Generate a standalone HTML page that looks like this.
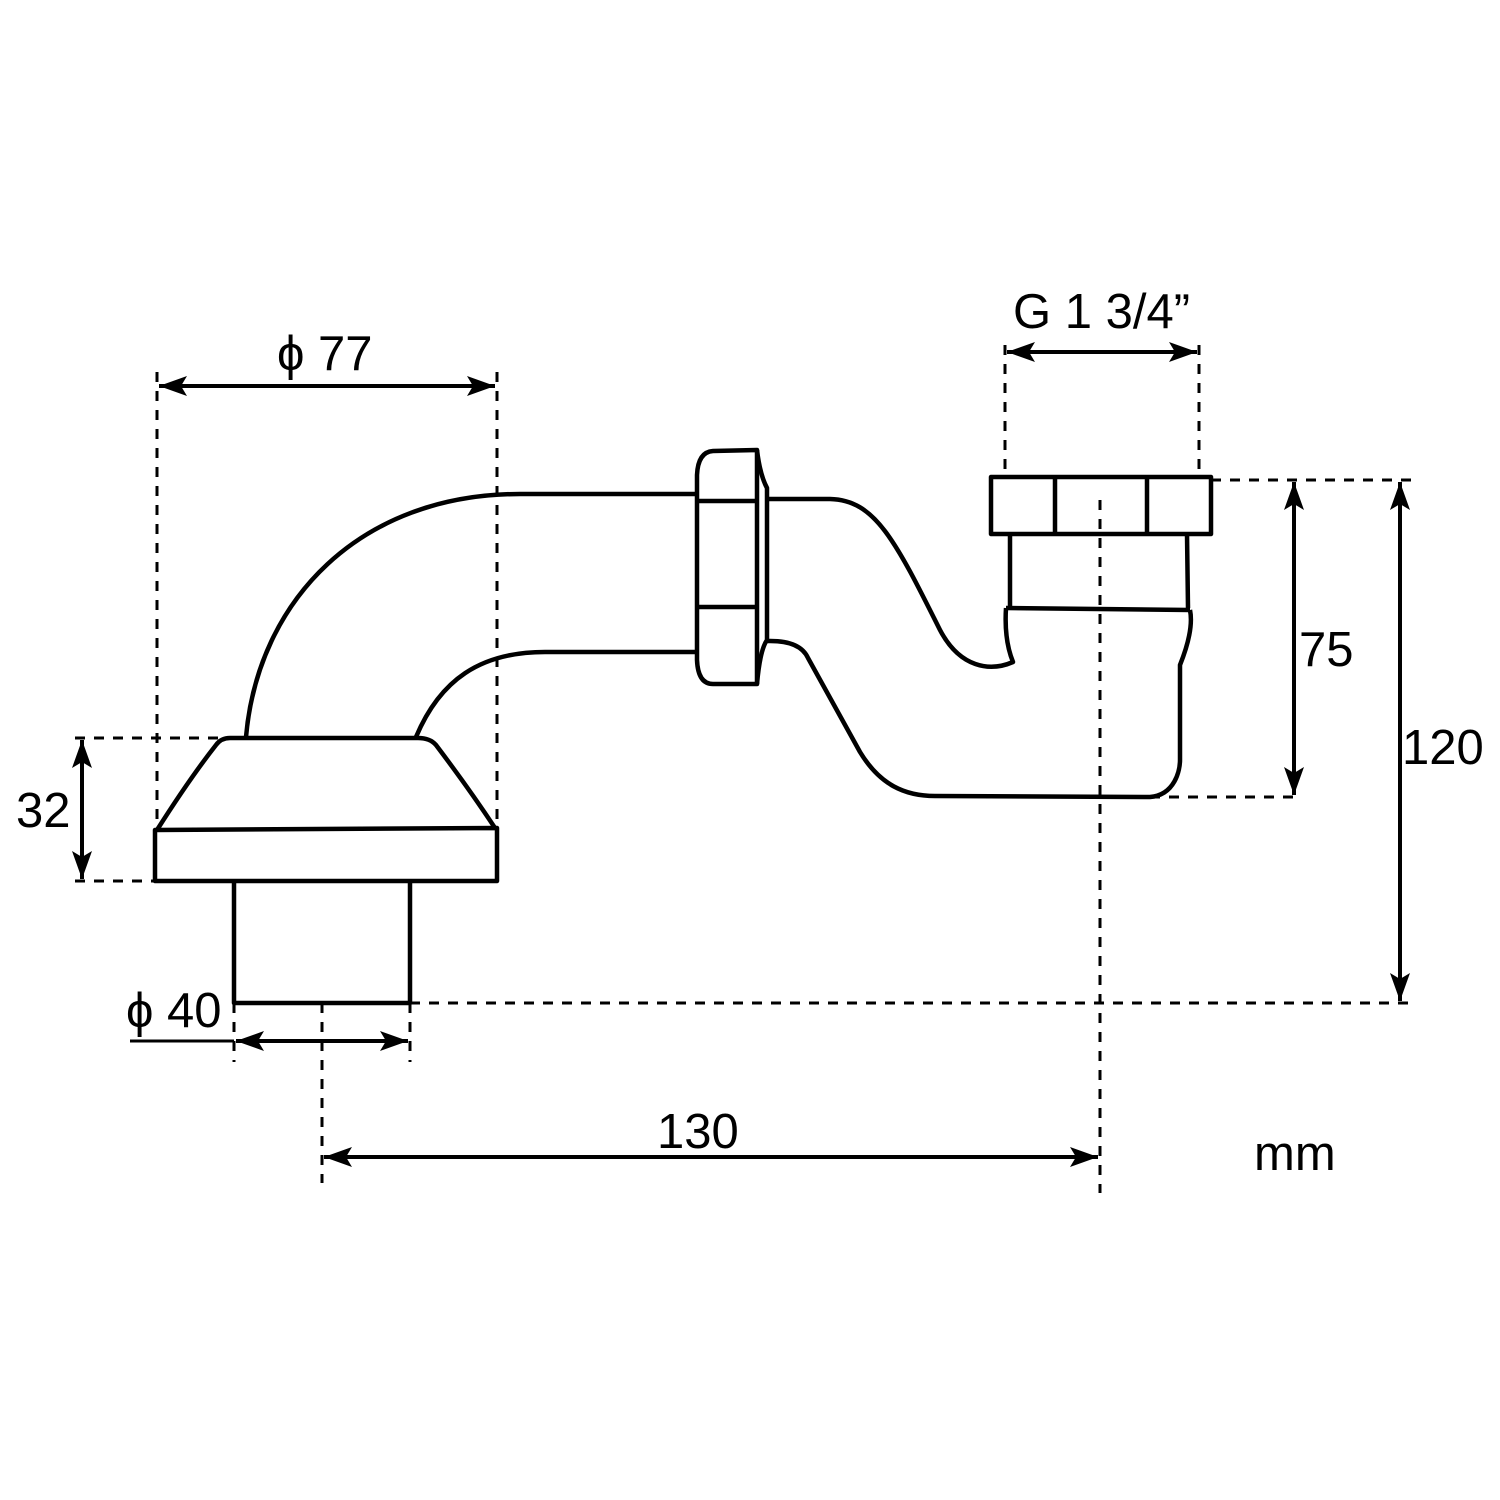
<!DOCTYPE html>
<html><head><meta charset="utf-8"><style>html,body{margin:0;padding:0;background:#fff}svg{display:block}</style></head>
<body>
<svg width="1500" height="1500" viewBox="0 0 1500 1500" xmlns="http://www.w3.org/2000/svg">
<defs>
<marker id="a" viewBox="0 0 28 20" refX="28" refY="10" markerWidth="28" markerHeight="20" markerUnits="userSpaceOnUse" orient="auto-start-reverse">
<path d="M0,0 L28,10 L0,20 L6,10 Z" fill="#000"/>
</marker>
</defs>
<g fill="none" stroke="#000" stroke-width="4.5" stroke-linejoin="round">
<path d="M246,737 C258,600 360,494 520,494 L697,494"/>
<path d="M416,737 C440,680 480,652 545,652 L697,652"/>
<path d="M157,830 Q190,778 216,745 Q221,738 230,738 L418,738 Q430,738 436,745 Q470,790 495,828"/>
<path d="M155,830 L497,828 L497,881 L155,881 Z"/>
<path d="M234,881 L234,1003 L410,1003 L410,881"/>
<path d="M713,451 L757,450 Q760,475 767,488 L767,640 Q760,650 757,684 L713,684 Q698,684 697,660 L697,475 Q698,452 713,451 Z"/>
<path d="M698,501 L757,501 M698,607 L757,607 M757,450 L757,684"/>
<path d="M767,499 L830,499 C875,500 895,540 940,630 C960,668 990,672 1013,662 Q1004,640 1006,608"/>
<path d="M767,641 Q800,640 808,658 L860,752 C880,785 905,796 935,796 L1150,797 C1175,795 1180,770 1180,760 L1180,665 Q1194,630 1190,610"/>
<path d="M1006,608 L1190,610"/>
<path d="M1010,534 L1010,608 M1187,534 L1188,608"/>
<path d="M991,477 L1211,477 L1211,534 L991,534 Z M1055,477 L1055,534 M1147,477 L1147,534"/>
</g>
<g fill="none" stroke="#000" stroke-width="3" stroke-dasharray="10,9">
<path d="M157,372 L157,830 M497,372 L497,828"/>
<path d="M1005,345 L1005,477 M1199,345 L1199,477"/>
<path d="M75,738 L218,738 M75,881 L155,881"/>
<path d="M1211,480 L1420,480 M1150,797 L1300,797"/>
<path d="M410,1003 L1415,1003"/>
<path d="M234,1003 L234,1062 M410,1003 L410,1062"/>
<path d="M322,1003 L322,1183 M1100,500 L1100,1193"/>
</g>
<g stroke="#000" stroke-width="4" fill="none">
<path d="M159,386 L495,386" marker-start="url(#a)" marker-end="url(#a)"/>
<path d="M1007,352 L1197,352" marker-start="url(#a)" marker-end="url(#a)"/>
<path d="M82,740 L82,879" marker-start="url(#a)" marker-end="url(#a)"/>
<path d="M1294,482 L1294,795" marker-start="url(#a)" marker-end="url(#a)"/>
<path d="M1400,482 L1400,1001" marker-start="url(#a)" marker-end="url(#a)"/>
<path d="M236,1041 L408,1041" marker-start="url(#a)" marker-end="url(#a)"/>
<path d="M130,1041 L234,1041" stroke-width="3"/>
<path d="M324,1157 L1098,1157" marker-start="url(#a)" marker-end="url(#a)"/>
</g>
<g font-family="Liberation Sans, Arial, sans-serif" font-size="49" fill="#000">
<text x="277" y="370">ϕ 77</text>
<text x="1013" y="328">G 1 3/4”</text>
<text x="16" y="827">32</text>
<text x="1299" y="666">75</text>
<text x="1402" y="764">120</text>
<text x="126" y="1027">ϕ 40</text>
<text x="657" y="1148">130</text>
<text x="1254" y="1170">mm</text>
</g>
</svg>
</body></html>
